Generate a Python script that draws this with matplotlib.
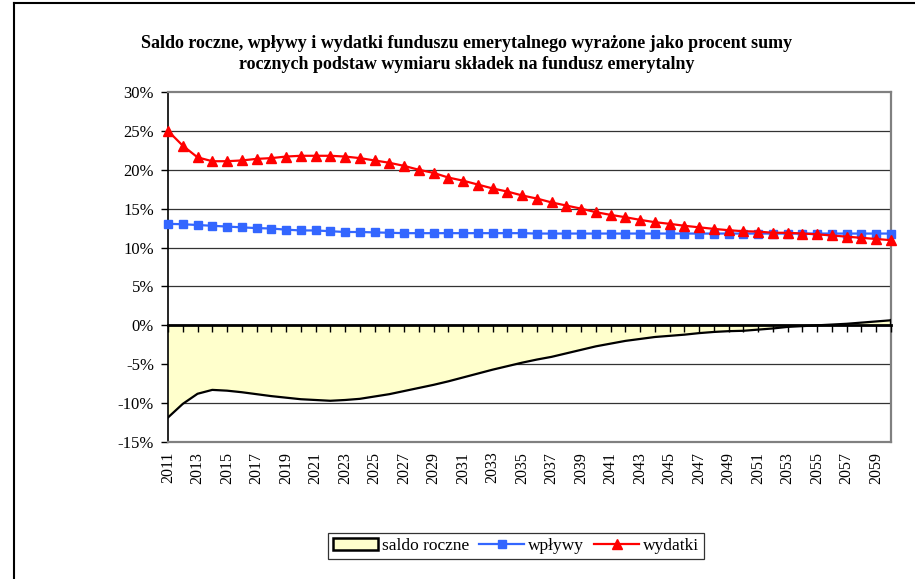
import matplotlib
matplotlib.use("Agg")
import matplotlib.pyplot as plt
import matplotlib.patches as mpatches
import matplotlib.lines as mlines
import numpy as np

years = list(range(2011, 2061))

wplywy = [13.05, 13.0, 12.9, 12.8, 12.7, 12.6, 12.5, 12.45, 12.3, 12.2,
          12.2, 12.1, 12.0, 12.0, 11.95, 11.9, 11.85, 11.85, 11.85, 11.85,
          11.85, 11.85, 11.85, 11.85, 11.85, 11.8, 11.8, 11.8, 11.8, 11.8,
          11.8, 11.8, 11.8, 11.8, 11.8, 11.8, 11.8, 11.8, 11.8, 11.8,
          11.8, 11.8, 11.8, 11.8, 11.8, 11.8, 11.8, 11.8, 11.8, 11.8]

wydatki = [25.0, 23.1, 21.6, 21.1, 21.1, 21.2, 21.4, 21.5, 21.7, 21.8,
           21.8, 21.8, 21.7, 21.5, 21.2, 20.9, 20.5, 20.0, 19.6, 19.0,
           18.6, 18.1, 17.6, 17.2, 16.7, 16.3, 15.8, 15.4, 15.0, 14.55,
           14.2, 13.9, 13.56, 13.26, 13.05, 12.8, 12.6, 12.4, 12.23, 12.1,
           12.05, 11.9, 11.9, 11.8, 11.7, 11.55, 11.4, 11.25, 11.1, 10.95]

saldo = [-11.85, -10.1, -8.8, -8.3, -8.4, -8.6, -8.85, -9.1, -9.3, -9.5,
         -9.6, -9.7, -9.6, -9.45, -9.15, -8.85, -8.45, -8.05, -7.65, -7.2,
         -6.7, -6.2, -5.7, -5.25, -4.8, -4.4, -4.05, -3.6, -3.15, -2.7,
         -2.35, -2.0, -1.75, -1.5, -1.35, -1.2, -1.0, -0.85, -0.75, -0.7,
         -0.55, -0.4, -0.2, -0.1, 0.0, 0.1, 0.2, 0.35, 0.5, 0.65]

yticks = [-15, -10, -5, 0, 5, 10, 15, 20, 25, 30]
xlabel_years = list(range(2011, 2060, 2))

title = ("Saldo roczne, wpływy i wydatki funduszu emerytalnego wyrażone jako procent sumy\n"
         "rocznych podstaw wymiaru składek na fundusz emerytalny")

plt.rcParams['font.family'] = ['Liberation Serif', 'DejaVu Serif']

fig = plt.figure(figsize=(9.15, 5.79), dpi=100)
ax = fig.add_axes([168/915, 1-442/579, (891-168)/915, (442-92)/579])

ax.set_xlim(2011, 2060)
ax.set_ylim(-15, 30)

for yv in yticks[1:-1]:
    ax.axhline(yv, color='#333333', lw=0.9, zorder=1)

ax.fill_between(years, saldo, 0, facecolor='#FFFFCC', edgecolor='none', zorder=2)
ax.plot(years, saldo, color='black', lw=1.6, zorder=3)
ax.plot([years[-1], years[-1]], [0, saldo[-1]], color='black', lw=1.6, zorder=3)

ax.plot(years, wplywy, color='#3366FF', lw=1.6, marker='s', markersize=6,
        markeredgecolor='#3366FF', zorder=4, clip_on=False)
ax.plot(years, wydatki, color='#FF0000', lw=1.6, marker='^', markersize=7.5,
        markeredgecolor='#FF0000', zorder=5, clip_on=False)

ax.set_yticks(yticks)
ax.set_yticklabels([f"{v}%" for v in yticks], fontsize=12)
ax.tick_params(axis='y', direction='out', length=5, width=1, color='black', pad=5)

ax.set_xticks(xlabel_years)
ax.set_xticklabels([str(y) for y in xlabel_years], rotation=90, fontsize=11.5)
ax.tick_params(axis='x', length=0, pad=7)

for s in ['top', 'right', 'bottom']:
    ax.spines[s].set_color('#808080')
    ax.spines[s].set_linewidth(1.6)
ax.spines['left'].set_color('black')
ax.spines['left'].set_linewidth(1.2)

sec = ax.secondary_xaxis(15/45)
sec.set_zorder(10)
sec.set_xticks(years)
sec.set_xticklabels([])
sec.tick_params(direction='out', length=5, width=1, color='black')
sec.spines['bottom'].set_color('black')
sec.spines['bottom'].set_linewidth(2)

fig.text(467/915, 1-54/579, title, ha='center', va='center', fontsize=13,
         fontweight='bold', linespacing=1.3)

h1 = mpatches.Patch(facecolor='#FFFFCC', edgecolor='black', linewidth=1.8, label='saldo roczne')
h2 = mlines.Line2D([], [], color='#3366FF', lw=1.6, marker='s', markersize=6, label='wpływy')
h3 = mlines.Line2D([], [], color='#FF0000', lw=1.6, marker='^', markersize=7, label='wydatki')
leg = fig.legend(handles=[h1, h2, h3], loc='center', bbox_to_anchor=(516/915, 1-546/579),
                 ncol=3, fontsize=12.5, frameon=True, fancybox=False, edgecolor='black',
                 handlelength=2.6, handletextpad=0.2, columnspacing=0.6,
                 borderpad=0.3, borderaxespad=0)
leg.get_frame().set_linewidth(0.9)

fig.add_artist(mlines.Line2D([14/915, 14/915], [0, 1-3/579], color='black', lw=1.5,
                             transform=fig.transFigure))
fig.add_artist(mlines.Line2D([14/915, 1], [1-3/579, 1-3/579], color='black', lw=1.5,
                             transform=fig.transFigure))

fig.savefig('out.png', dpi=100)
